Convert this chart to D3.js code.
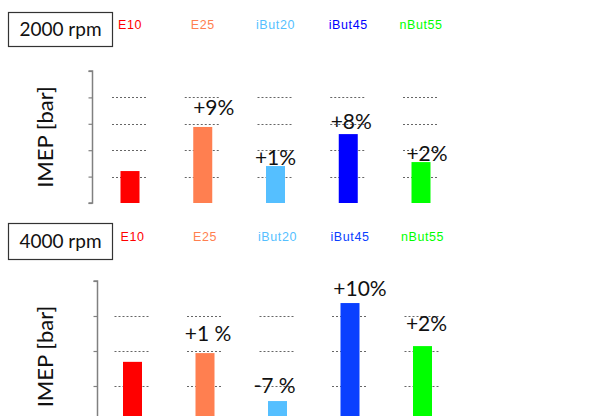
<!DOCTYPE html>
<html>
<head>
<meta charset="utf-8">
<script src="https://cdn.jsdelivr.net/npm/d3@7"></script>
<style>
  body { margin: 0; background: #fff; }
  svg { display: block; }
</style>
</head>
<body>
<script>
// fuels and their colours
const fuels = ["E10", "E25", "iBut20", "iBut45", "nBut55"];
const fuelColors = ["#ff0000", "#ff7f50", "#55bfff", "#0000ff", "#00ff00"];
const fuelColors4000 = ["#ff0000", "#ff7f50", "#55bfff", "#0a40ff", "#00ff00"];

// IMEP (in grid units, no axis labels on original)
const imep2000 = [1.21, 2.88, 1.40, 2.61, 1.55];
const imep4000 = [2.69, 2.94, 1.57, 4.37, 3.14];

// change vs E10
const delta2000 = ["", "+9%", "+1%", "+8%", "+2%"];
const delta4000 = ["", "+1 %", "-7 %", "+10%", "+2%"];

const gridTicks = [1, 2, 3, 4];

const width = 601, height = 416;
const svg = d3.select("body").append("svg").attr("width", width).attr("height", height);

const panels = [
    { name: "2000 rpm", values: imep2000, deltas: delta2000, colors: fuelColors,
      box: [8.5, 12.5, 104, 34], labelY: 28.5, axisX: 92.5, top: 71, bottom: 203,
      xRange: [130, 421], nudge: [[0, 0], [11, -12], [0, -1], [3, -5], [6, -1]] },
    { name: "4000 rpm", values: imep4000, deltas: delta4000, colors: fuelColors4000,
      box: [8.5, 223.5, 104, 36], labelY: 241, axisX: 97.5, top: 281, bottom: 456,
      xRange: [132.5, 422.5], nudge: [[0, 0], [3, -12], [-3, -8], [10, -7], [4, -15]] }
];

panels.forEach(p => {
    const g = svg.append("g");

    const x = d3.scalePoint().domain(fuels).range(p.xRange);
    const y = d3.scaleLinear().domain([0, 5]).range([p.bottom, p.top]);
    const barW = 19;

    // rpm box
    g.append("rect")
        .attr("x", p.box[0]).attr("y", p.box[1])
        .attr("width", p.box[2]).attr("height", p.box[3])
        .attr("fill", "#fff").attr("stroke", "#333").attr("stroke-width", 1.2);
    g.append("text")
        .attr("x", p.box[0] + p.box[2] / 2).attr("y", p.box[1] + p.box[3] / 2 + 6.5)
        .attr("text-anchor", "middle")
        .style("font-family", "Lato, sans-serif").style("font-size", "19px").attr("fill", "#111")
        .text(p.name);

    // fuel names
    g.selectAll("text.fuel").data(fuels).enter().append("text")
        .attr("class", "fuel")
        .attr("x", d => x(d)).attr("y", p.labelY)
        .attr("text-anchor", "middle")
        .style("font-family", "'Liberation Sans', Arial, sans-serif").style("font-size", "12.5px")
        .style("letter-spacing", "0.6px")
        .attr("fill", (d, i) => p.colors[i])
        .text(d => d);

    // dotted grid segments around each bar
    fuels.forEach(f => {
        g.selectAll(null).data(gridTicks).enter().append("line")
            .attr("x1", x(f) - 18).attr("x2", x(f) + 18)
            .attr("y1", d => Math.round(y(d)) + 0.5).attr("y2", d => Math.round(y(d)) + 0.5)
            .attr("stroke", "#666").attr("stroke-width", 1).attr("stroke-dasharray", "2,2");
    });

    // bars
    g.selectAll("rect.bar").data(p.values).enter().append("rect")
        .attr("class", "bar")
        .attr("x", (d, i) => x(fuels[i]) - barW / 2)
        .attr("y", d => y(d))
        .attr("width", barW)
        .attr("height", d => p.bottom - y(d))
        .attr("fill", (d, i) => p.colors[i]);

    // axis
    const axis = d3.axisLeft(y).tickValues([0, 1, 2, 3, 4, 5]).tickSize(4).tickFormat("");
    const ag = g.append("g").attr("transform", `translate(${p.axisX},0)`).call(axis);
    ag.select(".domain").attr("stroke", "#808080").attr("stroke-width", 1.5).attr("d", `M-4,${p.top}H0V${p.bottom}H-4`);
    ag.selectAll(".tick line").attr("stroke", "#808080").attr("stroke-width", 1.2);

    // y label
    g.append("text")
        .attr("transform", `translate(53,${(p.top + Math.min(p.bottom, height)) / 2 + (p.bottom > height ? 8 : 0)}) rotate(-90)`)
        .attr("text-anchor", "middle")
        .style("font-family", "Lato, sans-serif").style("font-size", "22px").attr("fill", "#111")
        .text("IMEP [bar]");

    // percentage change labels
    g.selectAll("text.delta").data(p.deltas).enter().append("text")
        .attr("class", "delta")
        .attr("x", (d, i) => x(fuels[i]) + p.nudge[i][0])
        .attr("y", (d, i) => y(p.values[i]) + p.nudge[i][1])
        .attr("text-anchor", "middle")
        .style("font-family", "Lato, sans-serif").style("font-size", "21px").attr("fill", "#111")
        .text(d => d);
});
</script>
</body>
</html>
